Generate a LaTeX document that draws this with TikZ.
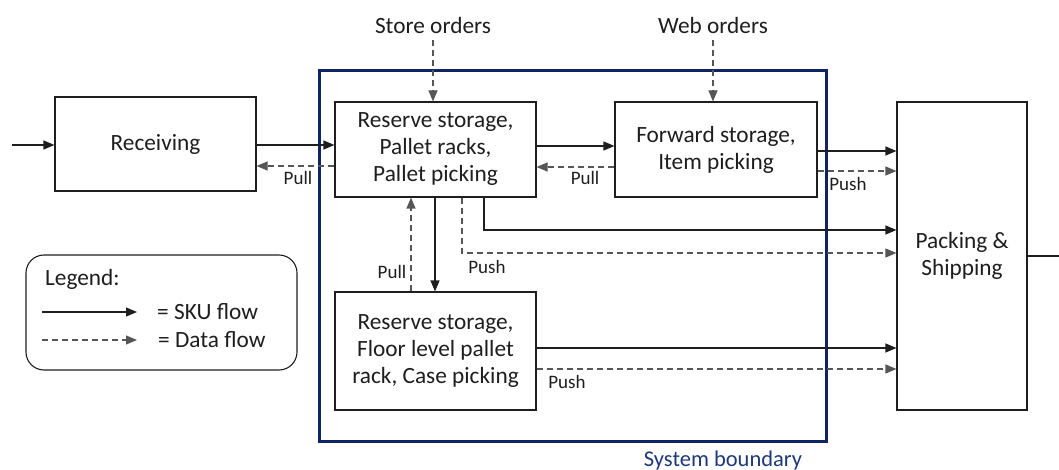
\documentclass[tikz,border=0pt]{standalone}
\usepackage{fontspec}
\setmainfont{Carlito}
\usetikzlibrary{arrows.meta,calc}
\definecolor{navy}{RGB}{14,36,100}
\definecolor{navytext}{RGB}{30,56,120}
\definecolor{ink}{RGB}{30,30,30}
\tikzset{
  box/.style={draw=ink, line width=1.1pt, fill=white, align=center, text=ink,
    font=\fontsize{23.3}{27}\selectfont, inner sep=0pt},
  sku/.style={draw=ink, line width=1.1pt, -{Triangle[length=11pt,width=9pt]}},
  data/.style={draw=ink!75, line width=1.1pt, dash pattern=on 6pt off 4pt, -{Triangle[length=11pt,width=9pt]}},
  lbl/.style={text=ink, font=\fontsize{19}{22}\selectfont, inner sep=0pt},
  big/.style={text=ink, font=\fontsize{23.3}{27}\selectfont, inner sep=0pt},
}
\begin{document}
\begin{tikzpicture}[x=1pt,y=-1pt]
\useasboundingbox (0,0) rectangle (1059,470);
% system boundary
\node[draw=navy, line width=3pt, minimum width=507pt, minimum height=370pt, inner sep=0pt] (sys) at (572.5,256) {};
\node[text=navytext, font=\fontsize{22.5}{26}\selectfont, inner sep=0pt] (syslbl) at (723,460) {System boundary};
% boxes
\node[box, minimum width=201pt, minimum height=94pt] (recv) at (155.5,144) {Receiving};
\node[box, minimum width=201pt, minimum height=95pt] (rs1) at (435.5,149.5) {Reserve storage,\\Pallet racks,\\Pallet picking};
\node[box, minimum width=202pt, minimum height=95pt] (fs) at (716,149.5) {Forward storage,\\Item picking};
\node[box, minimum width=201pt, minimum height=118pt] (rs2) at (435.5,351) {Reserve storage,\\Floor level pallet\\rack, Case picking};
\node[box, minimum width=130pt, minimum height=308pt] (pack) at (962,256) {Packing \&\\Shipping};
% top labels
\node[big] (store) at (433,25) {Store orders};
\node[big] (web) at (713,25) {Web orders};
\draw[data] (store.south |- 0,40) -- (store.south |- rs1.north);
\draw[data] (web.south |- 0,40) -- (web.south |- fs.north);
% input / output
\coordinate (in) at (12,145);
\coordinate (out) at (1059,256);
\draw[sku] (in) -- (recv.west |- in);
\draw[draw=ink, line width=1.1pt] (pack.east |- out) -- (out);
% receiving <-> rs1
\draw[sku] (recv.east |- 0,145) -- (rs1.west |- 0,145);
\draw[data] (rs1.west |- 0,166) -- (recv.east |- 0,166);
\node[lbl] (p1) at (298,178) {Pull};
% rs1 <-> fs
\draw[sku] (rs1.east |- 0,146) -- (fs.west |- 0,146);
\draw[data] (fs.west |- 0,167) -- (rs1.east |- 0,167);
\node[lbl] (p2) at (585,178) {Pull};
% fs -> pack
\draw[sku] (fs.east |- 0,151) -- (pack.west |- 0,151);
\draw[data] (fs.east |- 0,171) -- (pack.west |- 0,171);
\node[lbl] (p3) at (848,184) {Push};
% rs1 -> pack (direct)
\draw[sku] (rs1.south -| 484,0) |- (pack.west |- 0,230);
\draw[data] (rs1.south -| 462,0) |- (pack.west |- 0,253);
\node[lbl] (p4) at (487,267) {Push};
% rs1 <-> rs2
\draw[sku] (rs1.south -| 435,0) -- (rs2.north -| 435,0);
\draw[data] (rs2.north -| 411,0) -- (rs1.south -| 411,0);
\node[lbl] (p5) at (392,272) {Pull};
% rs2 -> pack
\draw[sku] (rs2.east |- 0,348) -- (pack.west |- 0,348);
\draw[data] (rs2.east |- 0,369) -- (pack.west |- 0,369);
\node[lbl] (p6) at (567,382) {Push};
% legend
\node[draw=ink, line width=1.1pt, rounded corners=18pt, minimum width=271pt, minimum height=115pt, inner sep=0pt] (leg) at (161.5,312.5) {};
\node[big, anchor=west] (legt) at (45,279) {Legend:};
\coordinate (l1a) at (42,312);
\coordinate (l1b) at (137,312);
\coordinate (l2a) at (42,340);
\coordinate (l2b) at (137,340);
\draw[sku] (l1a) -- (l1b);
\draw[data] (l2a) -- (l2b);
\node[big, anchor=west] (skut) at (157,312) {= SKU flow};
\node[big, anchor=west] (datat) at (158,340) {= Data flow};
\end{tikzpicture}
\end{document}
